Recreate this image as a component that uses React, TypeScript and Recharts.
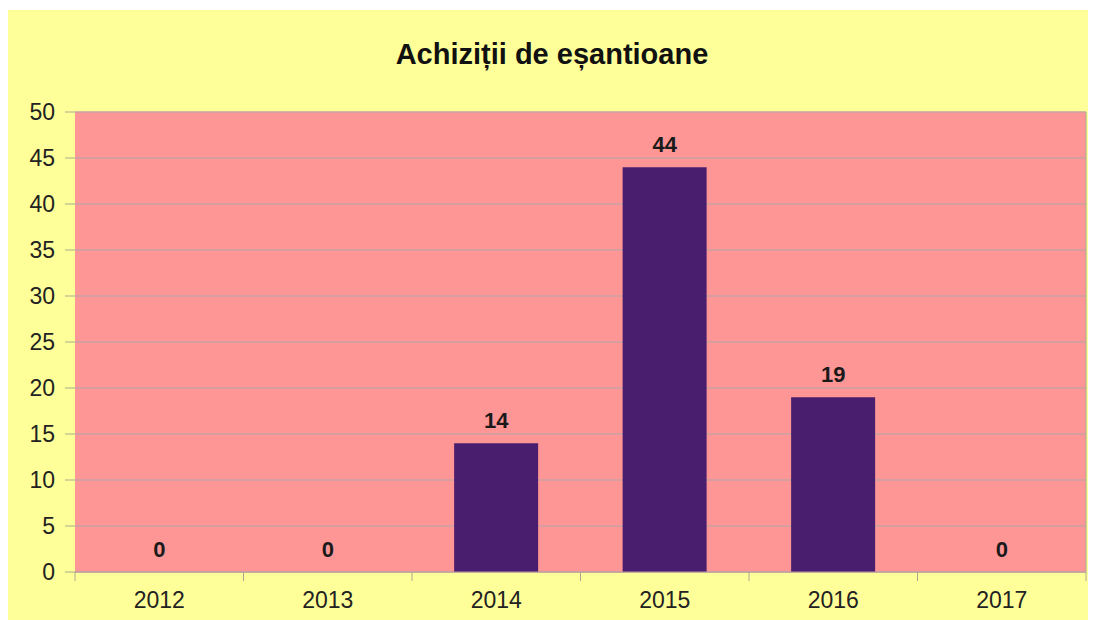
import { ComposedChart, Bar, Line, XAxis, YAxis, CartesianGrid, LabelList } from "recharts";

const years = ["2012", "2013", "2014", "2015", "2016", "2017"];
const samples = [0, 0, 14, 44, 19, 0];
const yTicks = [0, 5, 10, 15, 20, 25, 30, 35, 40, 45, 50];

const data = years.map((year, i) => ({ year, samples: samples[i] }));

const axisFont = "'Liberation Sans', Arial, sans-serif";

const YearTick = (props: any) => {
  const { x, y, payload, index } = props;
  const half = payload && payload.offset ? payload.offset : 84.25;
  return (
    <g>
      <line x1={x - half} x2={x - half} y1={y} y2={y + 9} stroke="#a8a890" />
      {index === years.length - 1 && (
        <line x1={x + half} x2={x + half} y1={y} y2={y + 9} stroke="#a8a890" />
      )}
      <text
        x={x}
        y={y + 28}
        dy="0.35em"
        textAnchor="middle"
        fill="#222"
        fontSize={23}
        fontFamily={axisFont}
      >
        {payload.value}
      </text>
    </g>
  );
};

export default function App() {
  return (
    <div
      style={{
        position: "relative",
        width: 1088,
        height: 610,
        marginTop: 2,
        background: "#ffff99",
      }}
    >
      <div
        style={{
          position: "absolute",
          top: 30,
          left: 0,
          width: 1088,
          textAlign: "center",
          fontFamily: "'Liberation Sans', Arial, sans-serif",
          fontWeight: "bold",
          fontSize: 29,
          lineHeight: "29px",
          color: "#111",
        }}
      >
        Achiziții de eșantioane
      </div>
      <ComposedChart
        width={1088}
        height={610}
        data={data}
        margin={{ top: 102, right: 0, bottom: 0, left: 0 }}
        barCategoryGap="25%"
      >
        <CartesianGrid
          horizontal
          vertical={false}
          fill="#ff9696"
          fillOpacity={1}
          stroke="#c9a0a0"
          strokeWidth={1.5}
        />
        <XAxis
          dataKey="year"
          height={48}
          tickSize={0}
          tickMargin={0}
          tickLine={false}
          axisLine={{ stroke: "#b8a0a0" }}
          tick={<YearTick />}
          interval={0}
        />
        <YAxis
          width={67}
          domain={[0, 50]}
          ticks={yTicks}
          interval={0}
          tickSize={10}
          tickMargin={10}
          axisLine={false}
          tickLine={{ stroke: "#a8a890" }}
          tick={{ fill: "#222", fontSize: 23, fontFamily: axisFont }}
        />
        <YAxis
          yAxisId="edge"
          orientation="right"
          width={10}
          domain={[0, 50]}
          tick={false}
          tickLine={false}
          axisLine={{ stroke: "#a8a890" }}
        />
        <Bar dataKey="samples" fill="#4a1e6e" isAnimationActive={false} />
        <Line
          dataKey="samples"
          stroke="none"
          dot={false}
          activeDot={false}
          legendType="none"
          isAnimationActive={false}
        >
          <LabelList
            dataKey="samples"
            position="top"
            offset={15}
            fill="#1a1a1a"
            fontSize={22}
            fontWeight="bold"
            fontFamily="'Liberation Sans', Arial, sans-serif"
          />
        </Line>
      </ComposedChart>
    </div>
  );
}
